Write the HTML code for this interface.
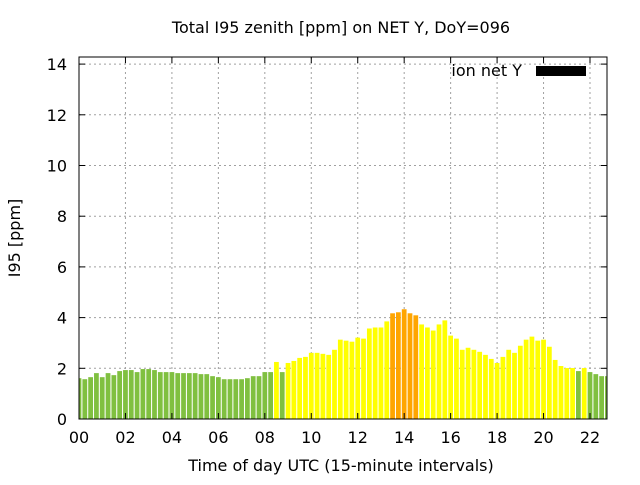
<!DOCTYPE html>
<html><head><meta charset="utf-8"><style>
html,body{margin:0;padding:0;background:#fff;}
svg text{font-family:"DejaVu Sans","Liberation Sans",sans-serif;fill:#000;}
</style></head><body>
<svg id="chart" width="640" height="480" viewBox="0 0 640 480" xmlns="http://www.w3.org/2000/svg">
<rect x="0" y="0" width="640" height="480" fill="#fff"/>
<text x="341" y="33" font-size="16" text-anchor="middle">Total I95 zenith [ppm] on NET Y, DoY=096</text>
<g id="grid"></g>
<g id="bars"></g>
<g id="axes"></g>
<text transform="translate(20,238) rotate(-90)" font-size="16" text-anchor="middle">I95 [ppm]</text>
<text x="341" y="471" font-size="16" text-anchor="middle">Time of day UTC (15-minute intervals)</text>
<g>
<text x="522" y="76" font-size="16" text-anchor="end">ion net Y</text>
<rect x="536" y="66" width="50" height="10" fill="#000"/>
</g>
</svg>
<script>
const values = [1.61,1.57,1.65,1.81,1.65,1.81,1.73,1.89,1.93,1.93,1.85,1.97,1.97,1.93,1.85,1.85,1.85,1.81,1.81,1.81,1.81,1.77,1.77,1.69,1.65,1.57,1.57,1.57,1.57,1.61,1.69,1.69,1.85,1.85,2.25,1.85,2.21,2.29,2.41,2.45,2.61,2.61,2.57,2.53,2.73,3.13,
3.09,3.05,3.21,3.17,3.57,3.61,3.61,3.85,4.17,4.21,4.33,4.17,4.09,3.73,3.61,3.49,3.73,3.89,3.29,3.17,2.73,2.81,
2.73,2.65,2.53,2.37,2.21,2.45,2.73,2.61,2.89,3.13,3.25,3.09,3.13,2.85,2.33,2.09,2.01,2.01,1.89,2.01,1.85,1.77,1.69,1.69];
const xTicks = ["00","02","04","06","08","10","12","14","16","18","20","22"];
const yTicks = [0,2,4,6,8,10,12,14];

const L=79, R=607, T=57, B=419;
const xMin=0, xMax=22.75, yMin=0, yMax=14.28;
const hrW=(590-79)/22;
function xs(h){return L+(h-xMin)*hrW;}
function ys(v){return B-(v-yMin)/(yMax-yMin)*(B-T);}
const NS="http://www.w3.org/2000/svg";
function mk(tag,attrs,parent){const e=document.createElementNS(NS,tag);for(const k in attrs)e.setAttribute(k,attrs[k]);parent.appendChild(e);return e;}
const grid=document.getElementById('grid'), bars=document.getElementById('bars'), axes=document.getElementById('axes');

yTicks.forEach(v=>{
  const y=ys(v);
  if(v>0){const g=mk('line',{x1:L,x2:R,y1:y,y2:y,stroke:'#a0a0a0','stroke-width':1,'stroke-dasharray':'2,3'},grid);
  
  }
  const t=mk('line',{x1:L,x2:L+6,y1:y,y2:y,stroke:'#000'},axes);
  
  
  const t2=mk('line',{x1:R-6,x2:R,y1:y,y2:y,stroke:'#000'},axes);
  
  
  const lb=mk('text',{x:L-12,y:y+6,'font-size':16,'text-anchor':'end'},axes);
  lb.textContent=v;
  
  
});
xTicks.forEach(s=>{
  const x=xs(parseInt(s,10));
  if(x>L){const g=mk('line',{x1:x,x2:x,y1:T,y2:B,stroke:'#a0a0a0','stroke-width':1,'stroke-dasharray':'2,3'},grid);
  
  }
  const t=mk('line',{x1:x,x2:x,y1:B-6,y2:B,stroke:'#000'},axes);
  
  
  const t2=mk('line',{x1:x,x2:x,y1:T,y2:T+6,stroke:'#000'},axes);
  
  
  const lb=mk('text',{x:x,y:B+24,'font-size':16,'text-anchor':'middle'},axes);
  lb.textContent=s;
  
  
});
const clip=mk('clipPath',{id:'pc'},document.getElementById('chart'));
mk('rect',{x:L,y:T,width:R-L,height:B-T},clip);
bars.setAttribute('clip-path','url(#pc)');
const bw=hrW*0.25*0.82;
values.forEach((v,i)=>{
  const h=i*0.25, x=xs(h)-bw/2, y=ys(v);
  const col = v>=4 ? '#ffa500' : (v>=2 ? '#ffff00' : '#80c040');
  const r=mk('rect',{x:x,y:y,width:bw,height:ys(0)-y,fill:col},bars);
  
  
});
const f=mk('rect',{x:L,y:T,width:R-L,height:B-T,fill:'none',stroke:'#000','stroke-width':1},axes);


</script>
</body></html>
